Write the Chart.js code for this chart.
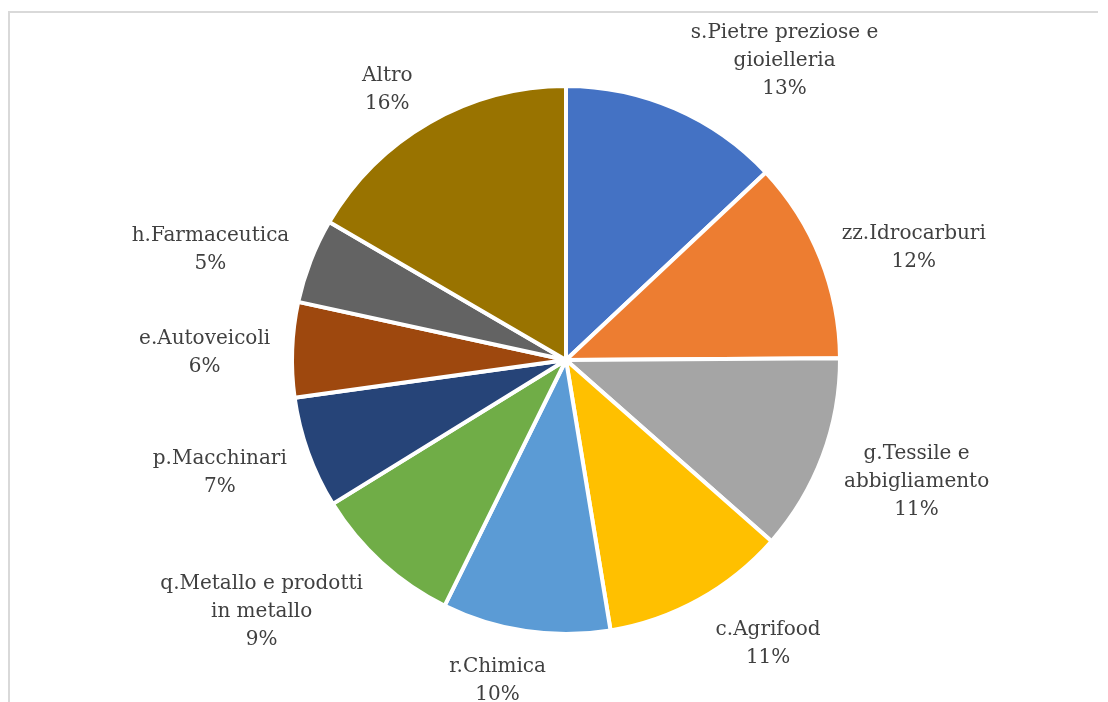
<!DOCTYPE html>
<html>
<head>
<meta charset="utf-8">
<script src="https://cdn.jsdelivr.net/npm/chart.js@4.4.0/dist/chart.umd.min.js"></script>
<style>
  html, body { margin: 0; padding: 0; background: #fff; overflow: hidden; }
  .edge { position: absolute; background: #d9d9d9; }
  #edge-top { left: 8px; top: 11px; width: 1090px; height: 2px; }
  #edge-left { left: 8px; top: 11px; width: 2px; height: 691px; }
  #wrap { position: absolute; left: 0; top: 0; width: 1108px; height: 702px; }
</style>
</head>
<body>
<div class="edge" id="edge-top"></div>
<div class="edge" id="edge-left"></div>
<div id="wrap"><canvas id="pie-chart"></canvas></div>
<script>
// Categories (clockwise from 12 o'clock), label lines as shown in the picture
const categories = [
  ["s.Pietre preziose e", "gioielleria"],
  ["zz.Idrocarburi"],
  ["g.Tessile e", "abbigliamento"],
  ["c.Agrifood"],
  ["r.Chimica"],
  ["q.Metallo e prodotti", "in metallo"],
  ["p.Macchinari"],
  ["e.Autoveicoli"],
  ["h.Farmaceutica"],
  ["Altro"]
];
// Shares in percent
const shares = [13.0, 11.9, 11.6, 10.9, 9.9, 8.9, 6.6, 5.6, 5.0, 16.6];
// Percent labels as printed on the chart
const percentLabels = ["13%", "12%", "11%", "11%", "10%", "9%", "7%", "6%", "5%", "16%"];
const colors = ["#4472C4", "#ED7D31", "#A5A5A5", "#FFC000", "#5B9BD5",
                "#70AD47", "#264478", "#9E480E", "#636363", "#997300"];

const fontSpec = '20px "DejaVu Serif"';
const lineHeight = 28;

// draws labels outside the pie, like Excel's "outside end" data labels
const outsideLabels = {
  id: 'outsideLabels',
  afterDatasetsDraw(chart) {
    const ctx = chart.ctx;
    const meta = chart.getDatasetMeta(0);
    ctx.save();
    ctx.font = fontSpec;
    ctx.fillStyle = '#404040';
    ctx.textAlign = 'center';
    ctx.textBaseline = 'middle';
    meta.data.forEach((arc, i) => {
      const mid = (arc.startAngle + arc.endAngle) / 2;
      const r = arc.outerRadius + 10;
      const px = arc.x + Math.cos(mid) * r;
      const py = arc.y + Math.sin(mid) * r;
      const lines = categories[i].concat([percentLabels[i]]);
      const w = Math.max(...lines.map(l => ctx.measureText(l).width));
      const h = lines.length * lineHeight;
      const fx = Math.max(-1, Math.min(1, Math.cos(mid) * 3));
      const fy = Math.sin(mid);
      // lower half labels sit a little further out
      const gy = fy > 0 ? 7 : 5;
      const cx = px + fx * (w / 2 + 12);
      const cy = py + fy * (h / 2 + gy) + 5;
      lines.forEach((l, j) => {
        ctx.fillText(l, cx, cy - h / 2 + lineHeight / 2 + j * lineHeight);
      });
    });
    ctx.restore();
  }
};

const ctx = document.getElementById('pie-chart').getContext('2d');
new Chart(ctx, {
  type: 'pie',
  data: {
    labels: categories.map(c => c.join(' ')),
    datasets: [{
      data: shares,
      backgroundColor: colors,
      borderColor: '#ffffff',
      borderWidth: 4
    }]
  },
  options: {
    responsive: true,
    maintainAspectRatio: false,
    animation: false,
    layout: { padding: { left: 290, right: 266, top: 84, bottom: 66 } },
    plugins: {
      legend: { display: false },
      tooltip: { enabled: false }
    }
  },
  plugins: [outsideLabels]
});
</script>
</body>
</html>
